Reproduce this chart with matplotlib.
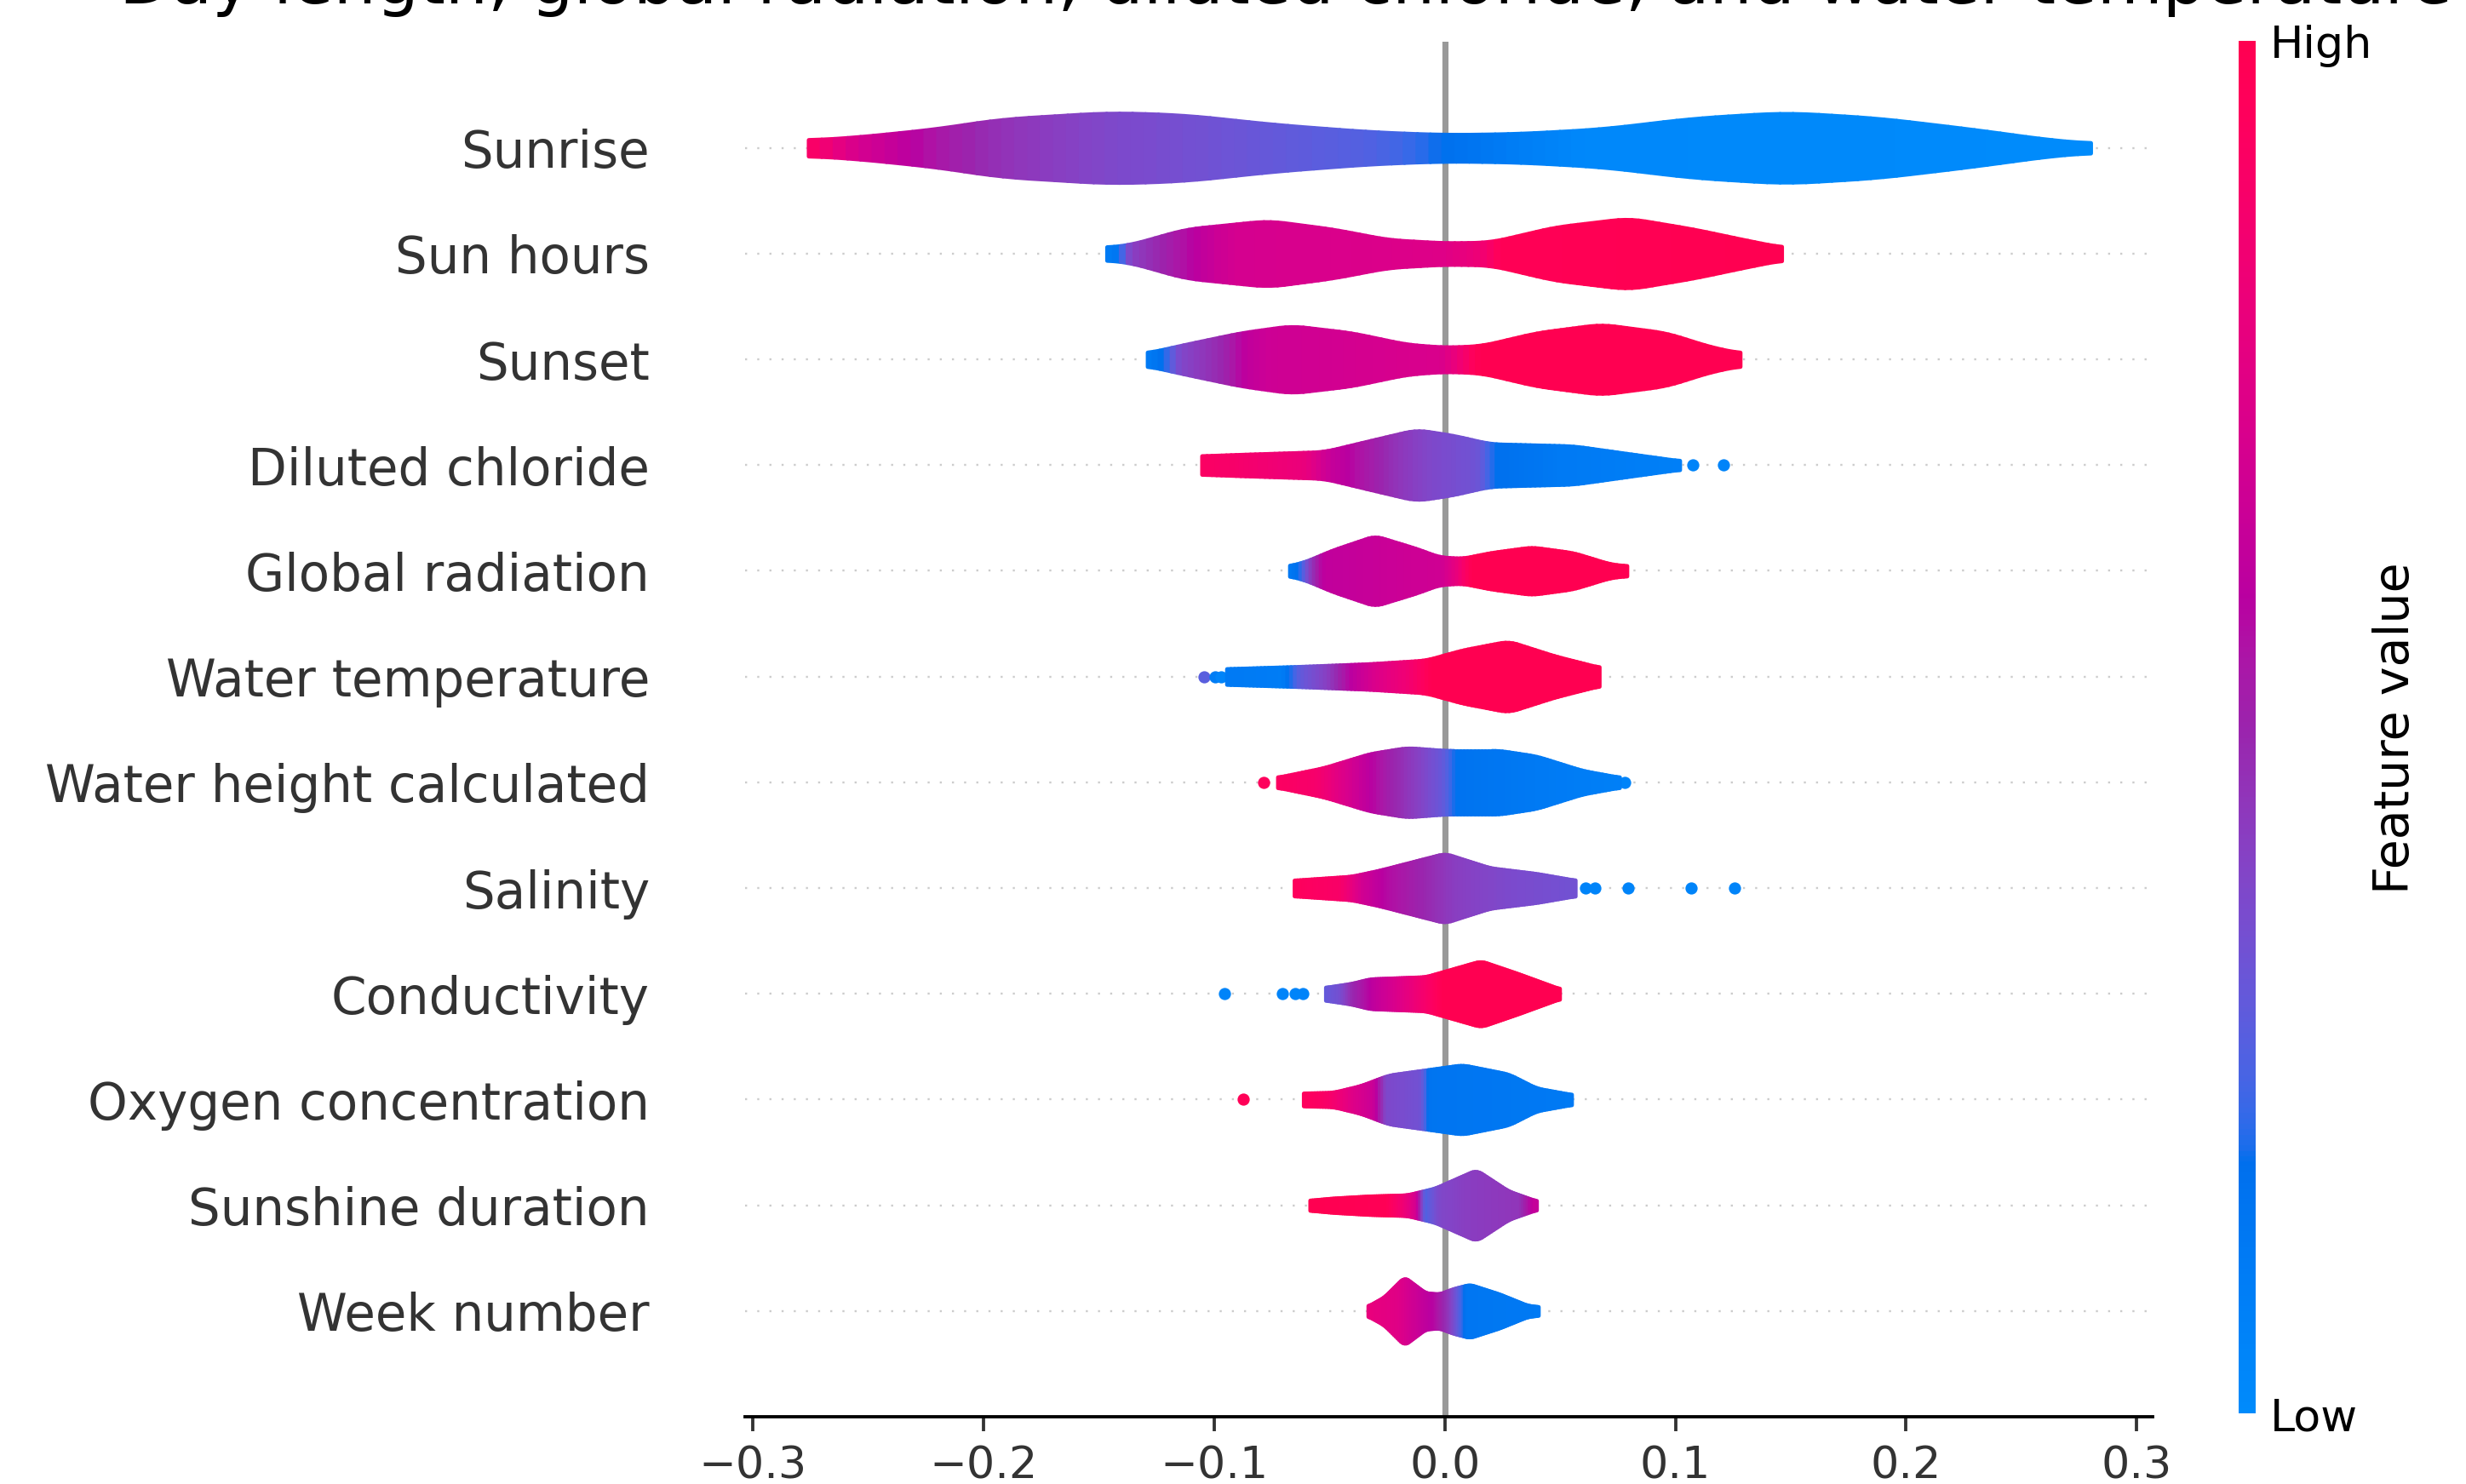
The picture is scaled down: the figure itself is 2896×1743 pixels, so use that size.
import numpy as np
import matplotlib
matplotlib.use("Agg")
import matplotlib.pyplot as plt
from matplotlib.colors import LinearSegmentedColormap, Normalize
from matplotlib.cm import ScalarMappable

# feature names, top row first
features = ["Sunrise", "Sun hours", "Sunset", "Diluted chloride", "Global radiation",
            "Water temperature", "Water height calculated", "Salinity", "Conductivity",
            "Oxygen concentration", "Sunshine duration", "Week number"]

# violin outline: shap value knots and relative density (1 = widest)
shap_x = {
    "Sunrise": [-0.276, -0.257, -0.221, -0.193, -0.145, -0.113, -0.0725, -0.032, 0.0, 0.032, 0.068, 0.108, 0.148, 0.188, 0.228, 0.264, 0.280],
    "Sun hours": [-0.1466, -0.137, -0.1126, -0.0765, -0.0485, -0.0244, 0.0, 0.0196, 0.0477, 0.0797, 0.108, 0.132, 0.146],
    "Sunset": [-0.129, -0.1126, -0.0885, -0.0665, -0.0405, -0.0164, 0.0, 0.0156, 0.0397, 0.0677, 0.0958, 0.1158, 0.128],
    "Diluted chloride": [-0.1054, -0.0885, -0.0525, -0.0325, -0.0124, 0.0036, 0.0196, 0.0557, 0.0797, 0.1018],
    "Global radiation": [-0.0673, -0.0605, -0.0485, -0.0304, -0.0124, -0.0024, 0.0076, 0.0196, 0.0377, 0.0557, 0.0717, 0.0789],
    "Water temperature": [-0.0946, -0.0645, -0.0325, -0.0084, 0.0076, 0.0276, 0.0477, 0.0669],
    "Water height calculated": [-0.0725, -0.0525, -0.0325, -0.0164, 0.0, 0.0236, 0.0397, 0.0597, 0.0757],
    "Salinity": [-0.0653, -0.0405, -0.0284, 0.0, 0.0196, 0.0397, 0.0565],
    "Conductivity": [-0.0517, -0.0405, -0.0325, -0.0084, 0.0156, 0.0317, 0.0497],
    "Oxygen concentration": [-0.0613, -0.0485, -0.0365, -0.0244, -0.0044, 0.0076, 0.0276, 0.0397, 0.0549],
    "Sunshine duration": [-0.0585, -0.0485, -0.0325, -0.0164, -0.0044, 0.0136, 0.0276, 0.0397],
    "Week number": [-0.0333, -0.0264, -0.0176, -0.0084, -0.0024, 0.0036, 0.0108, 0.0236, 0.0357, 0.0405],
}
density = {
    "Sunrise": [0.22, 0.29, 0.53, 0.81, 1.0, 0.93, 0.65, 0.45, 0.37, 0.40, 0.53, 0.84, 1.0, 0.84, 0.53, 0.21, 0.13],
    "Sun hours": [0.18, 0.24, 0.69, 0.93, 0.69, 0.39, 0.30, 0.32, 0.75, 1.0, 0.69, 0.36, 0.18],
    "Sunset": [0.18, 0.42, 0.75, 0.95, 0.75, 0.42, 0.34, 0.38, 0.75, 0.99, 0.75, 0.34, 0.18],
    "Diluted chloride": [0.26, 0.30, 0.375, 0.69, 1.0, 0.84, 0.60, 0.54, 0.32, 0.12],
    "Global radiation": [0.14, 0.26, 0.59, 0.99, 0.63, 0.39, 0.35, 0.51, 0.67, 0.51, 0.19, 0.14],
    "Water temperature": [0.22, 0.28, 0.36, 0.46, 0.75, 1.0, 0.58, 0.26],
    "Water height calculated": [0.14, 0.41, 0.81, 0.98, 0.9, 0.9, 0.74, 0.33, 0.14],
    "Salinity": [0.22, 0.33, 0.5, 0.98, 0.57, 0.41, 0.22],
    "Conductivity": [0.18, 0.29, 0.42, 0.48, 0.93, 0.57, 0.14],
    "Oxygen concentration": [0.18, 0.2, 0.39, 0.69, 0.87, 0.98, 0.72, 0.32, 0.14],
    "Sunshine duration": [0.14, 0.2, 0.26, 0.29, 0.48, 1.0, 0.4, 0.12],
    "Week number": [0.14, 0.39, 0.96, 0.51, 0.48, 0.63, 0.75, 0.48, 0.16, 0.12],
}

# smoothed feature value (0 low .. 1 high) along the shap axis
color_x = {
    "Sunrise": [-0.276, -0.257, -0.221, -0.193, -0.145, -0.113, -0.07, -0.03, 0.0, 0.03, 0.06, 0.28],
    "Sun hours": [-0.1466, -0.14, -0.137, -0.115, -0.1, -0.09, 0.0, 0.015, 0.025, 0.146],
    "Sunset": [-0.129, -0.12, -0.115, -0.095, -0.085, -0.075, 0.0, 0.008, 0.015, 0.128],
    "Diluted chloride": [-0.1054, -0.0885, -0.06, -0.05, -0.035, -0.02, -0.005, 0.015, 0.022, 0.05, 0.1018],
    "Global radiation": [-0.0673, -0.062, -0.058, -0.052, 0.0, 0.006, 0.012, 0.0789],
    "Water temperature": [-0.0946, -0.07, -0.062, -0.05, -0.04, -0.03, -0.015, -0.005, 0.0669],
    "Water height calculated": [-0.0725, -0.055, -0.045, -0.032, -0.022, -0.01, 0.0, 0.006, 0.04, 0.0757],
    "Salinity": [-0.0653, -0.045, -0.035, -0.025, -0.01, 0.005, 0.03, 0.0565],
    "Conductivity": [-0.0517, -0.045, -0.04, -0.03, -0.018, -0.008, 0.0, 0.0497],
    "Oxygen concentration": [-0.0613, -0.05, -0.04, -0.03, -0.025, -0.01, -0.006, 0.0549],
    "Sunshine duration": [-0.0585, -0.025, -0.018, -0.012, -0.008, -0.002, 0.01, 0.033, 0.0397],
    "Week number": [-0.0333, -0.02, -0.012, -0.004, 0.002, 0.006, 0.01, 0.0405],
}
color_v = {
    "Sunrise": [0.93, 0.72, 0.55, 0.46, 0.38, 0.35, 0.3, 0.26, 0.18, 0.1, 0.02, 0.0],
    "Sun hours": [0.1, 0.15, 0.4, 0.55, 0.65, 0.7, 0.74, 0.82, 0.98, 1.0],
    "Sunset": [0.1, 0.2, 0.38, 0.5, 0.62, 0.67, 0.72, 0.85, 1.0, 1.0],
    "Diluted chloride": [0.92, 0.88, 0.8, 0.65, 0.55, 0.45, 0.38, 0.33, 0.18, 0.12, 0.08],
    "Global radiation": [0.12, 0.2, 0.42, 0.62, 0.68, 0.8, 1.0, 1.0],
    "Water temperature": [0.12, 0.1, 0.3, 0.42, 0.6, 0.72, 0.85, 1.0, 1.0],
    "Water height calculated": [0.93, 0.88, 0.75, 0.6, 0.5, 0.4, 0.3, 0.16, 0.12, 0.08],
    "Salinity": [0.95, 0.9, 0.68, 0.58, 0.5, 0.42, 0.37, 0.34],
    "Conductivity": [0.3, 0.35, 0.48, 0.62, 0.75, 0.88, 1.0, 1.0],
    "Oxygen concentration": [0.95, 0.9, 0.75, 0.65, 0.38, 0.34, 0.15, 0.12],
    "Sunshine duration": [1.0, 0.98, 0.85, 0.7, 0.25, 0.38, 0.42, 0.45, 0.65],
    "Week number": [0.8, 0.75, 0.66, 0.58, 0.45, 0.3, 0.14, 0.12],
}

# single points outside the violins: (shap value, feature value)
outliers = {
    "Diluted chloride": [(0.1075, 0.05), (0.121, 0.05)],
    "Water temperature": [(-0.1045, 0.28), (-0.0995, 0.1), (-0.097, 0.05)],
    "Water height calculated": [(-0.0785, 0.95), (0.078, 0.05)],
    "Salinity": [(0.061, 0.05), (0.065, 0.05), (0.0795, 0.05), (0.1067, 0.05), (0.1257, 0.05)],
    "Conductivity": [(-0.0954, 0.05), (-0.0705, 0.05), (-0.065, 0.05), (-0.0615, 0.05)],
    "Oxygen concentration": [(-0.0873, 0.97)],
}

title = "Day length, global radiation, diluted chloride, and water temperature"
xticks = [-0.3, -0.2, -0.1, 0.0, 0.1, 0.2, 0.3]


def lab_to_rgb(lab):
    L, a, b = lab[:, 0], lab[:, 1], lab[:, 2]
    fy = (L + 16.0) / 116.0
    fx = fy + a / 500.0
    fz = fy - b / 200.0

    def finv(t):
        return np.where(t > 6 / 29, t ** 3, 3 * (6 / 29) ** 2 * (t - 4 / 29))

    xyz = np.stack([0.95047 * finv(fx), finv(fy), 1.08883 * finv(fz)], axis=1)
    m = np.array([[3.2406, -1.5372, -0.4986],
                  [-0.9689, 1.8758, 0.0415],
                  [0.0557, -0.2040, 1.0570]])
    lin = xyz @ m.T
    rgb = np.where(lin > 0.0031308, 1.055 * np.abs(lin) ** (1 / 2.4) - 0.055, 12.92 * lin)
    return np.clip(rgb, 0, 1)


def make_red_blue():
    # blue -> red through a darker purple, built in LCH like shap does
    blue_lch = [54., 70., 4.6588]
    l_mid = 40.
    red_lch = [54., 90., 0.35470565 + 2 * np.pi]
    nsteps = 100
    l_vals = list(np.linspace(blue_lch[0], l_mid, nsteps // 2)) + list(np.linspace(l_mid, red_lch[0], nsteps // 2))
    c_vals = np.linspace(blue_lch[1], red_lch[1], nsteps)
    h_vals = np.linspace(blue_lch[2], red_lch[2], nsteps)
    lab = np.stack([np.array(l_vals), c_vals * np.cos(h_vals), c_vals * np.sin(h_vals)], axis=1)
    return LinearSegmentedColormap.from_list("red_blue", lab_to_rgb(lab), N=256)


red_blue = make_red_blue()
axis_color = "#333333"

fig = plt.figure(figsize=(2896 / 343, 1743.6 / 343), dpi=343, facecolor="white")
ax = fig.add_axes([0.3021, 0.0453, 0.5708, 0.926])

n = len(features)
kernel = np.ones(5) / 5
for k, name in enumerate(features):
    pos = n - 1 - k
    ax.axhline(y=pos, color="#cccccc", lw=0.5, dashes=(1, 5), zorder=-1)

    xs = np.linspace(shap_x[name][0], shap_x[name][-1], 100)
    ds = np.interp(xs, shap_x[name], density[name]) / 3
    # round off the corners a little, the kde outline is smooth
    ds = np.convolve(np.pad(ds, 2, mode="edge"), kernel, mode="valid")
    vals = np.interp(xs, color_x[name], color_v[name])

    for px, cv in outliers.get(name, []):
        ax.scatter([px], [pos], color=red_blue(cv), s=9, linewidth=0, zorder=1)

    for i in range(len(xs) - 1):
        c = red_blue((vals[i] + vals[i + 1]) / 2)
        ax.fill_between([xs[i], xs[i + 1]], [pos + ds[i], pos + ds[i + 1]],
                        [pos - ds[i], pos - ds[i + 1]], color=c, zorder=2)

ax.axvline(x=0, color="#999999", zorder=-1)

ax.set_xlim(-0.3035, 0.3069)
ax.set_ylim(-1, n)
ax.set_xticks(xticks)
ax.set_yticks(range(n))
ax.set_yticklabels(features[::-1], fontsize=12.5)
ax.xaxis.set_ticks_position("bottom")
ax.yaxis.set_ticks_position("none")
ax.spines["right"].set_visible(False)
ax.spines["top"].set_visible(False)
ax.spines["left"].set_visible(False)
ax.tick_params(color=axis_color, labelcolor=axis_color)
ax.tick_params("y", length=20, width=0.5, which="major")
ax.tick_params("x", labelsize=11)

cax = fig.add_axes([2629 / 2896, 83 / 1744, 20 / 2896, 1612 / 1744])
m = ScalarMappable(norm=Normalize(0, 1), cmap=red_blue)
cb = fig.colorbar(m, cax=cax, ticks=[0, 1])
cb.set_ticklabels(["Low", "High"])
cb.set_label("Feature value", size=12, labelpad=0)
cb.ax.tick_params(labelsize=11, length=0)
cb.outline.set_visible(False)

fig.text(140 / 2896, 1 - 4 / 1744, title, fontsize=16.6, ha="left", va="baseline")

fig.savefig("out.png", dpi=343, facecolor="white")
